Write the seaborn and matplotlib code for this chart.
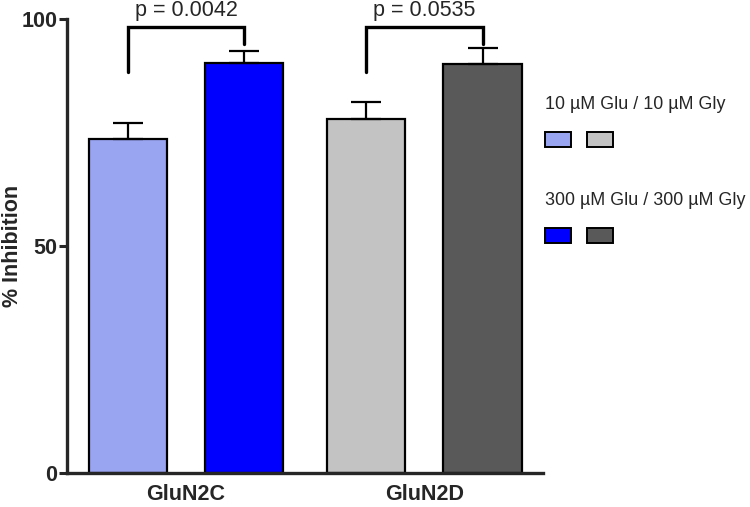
import matplotlib
matplotlib.use("Agg")
import matplotlib.pyplot as plt
from matplotlib.patches import Rectangle
import seaborn as sns
import pandas as pd

groups = ["GluN2C", "GluN2C", "GluN2D", "GluN2D"]
conditions = ["10 µM Glu / 10 µM Gly", "300 µM Glu / 300 µM Gly",
              "10 µM Glu / 10 µM Gly", "300 µM Glu / 300 µM Gly"]
means = [73.6, 90.3, 77.9, 90.0]
sems = [3.6, 2.7, 3.9, 3.6]
bar_colors = ["#9aa5f2", "#0000ff", "#c3c3c3", "#595959"]

p_values = ["p = 0.0042", "p = 0.0535"]
legend_labels = ["10 µM Glu / 10 µM Gly", "300 µM Glu / 300 µM Gly"]

df = pd.DataFrame({"group": groups, "condition": conditions, "value": means})

sns.set_style("ticks")
plt.rcParams["font.family"] = ["Liberation Sans", "DejaVu Sans"]

fig = plt.figure(figsize=(7.5, 5.07), dpi=100)
ax = fig.add_axes([0.0893, 0.0671, 0.635, 0.8954])

sns.barplot(
    data=df,
    x="group",
    y="value",
    hue="condition",
    width=0.98,
    gap=0.33,
    errorbar=None,
    edgecolor="black",
    linewidth=1.6,
    legend=False,
    ax=ax
)

bars = sorted(ax.patches, key=lambda p: p.get_x())[:4]
centers = []
for bar, col, m, s in zip(bars, bar_colors, means, sems):
    bar.set_facecolor(col)
    cx = bar.get_x() + bar.get_width() / 2
    centers.append(cx)
    ax.errorbar(cx, m, yerr=[[0], [s]], color="black", elinewidth=1.6,
                capsize=10.5, capthick=1.6, zorder=1)

ax.set_xlim(-0.5, 1.5)
ax.set_ylim(0, 100)
ax.set_yticks([0, 50, 100])
ax.set_xlabel("")
ax.set_ylabel("% Inhibition", fontsize=15.5, fontweight="bold")
ax.yaxis.set_label_coords(-0.092, 0.5)
ax.tick_params(axis="y", labelsize=15.5, width=2.2, length=6, pad=1)
ax.tick_params(axis="x", length=0, labelsize=15.5, pad=8)
for lab in ax.get_xticklabels() + ax.get_yticklabels():
    lab.set_fontweight("bold")
for side in ["left", "bottom"]:
    ax.spines[side].set_linewidth(2.4)
sns.despine(ax=ax)

# significance brackets
for i, ptxt in enumerate(p_values):
    x1, x2 = centers[2 * i], centers[2 * i + 1]
    top = 98.2
    ax.plot([x1, x1, x2, x2], [88.4, top, top, 94.5], color="black",
            linewidth=2.4, clip_on=False, solid_joinstyle="miter")
    ax.text((x1 + x2) / 2, top + 1.4, ptxt, ha="center", va="bottom",
            fontsize=15.5, clip_on=False)

# legend
rows = [(legend_labels[0], [bar_colors[0], bar_colors[2]], 0.793, 0.71),
        (legend_labels[1], [bar_colors[1], bar_colors[3]], 0.605, 0.52)]
for text, cols, ty, py in rows:
    fig.text(0.727, ty, text, fontsize=12.9, va="center", ha="left")
    for j, c in enumerate(cols):
        fig.patches.append(Rectangle((0.727 + j * 0.056, py), 0.034, 0.03,
                                     transform=fig.transFigure, facecolor=c,
                                     edgecolor="black", linewidth=1.4))

fig.savefig("out.png", dpi=100)
